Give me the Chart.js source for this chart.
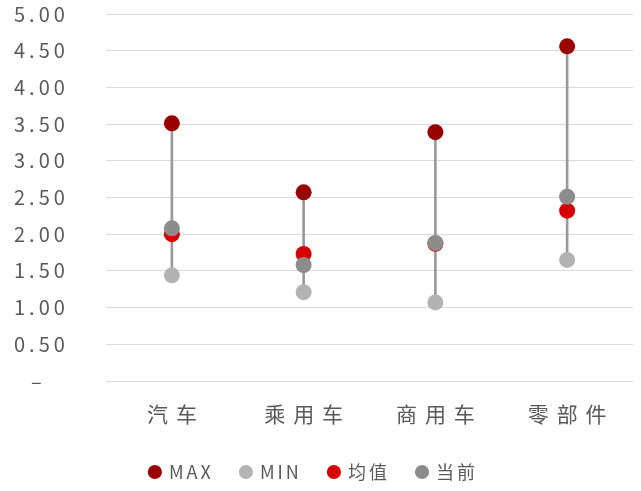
<!DOCTYPE html>
<html>
<head>
<meta charset="utf-8">
<script src="https://cdn.jsdelivr.net/npm/chart.js@4/dist/chart.umd.min.js"></script>
<style>
  html, body { margin: 0; padding: 0; background: #fff; }
  #wrap { width: 641px; height: 491px; }
</style>
</head>
<body>
<div id="wrap"><canvas id="rangeChart"></canvas></div>
<script>
const categories = ['汽车', '乘用车', '商用车', '零部件']
const maxVals = [3.51, 2.57, 3.39, 4.56]
const minVals = [1.44, 1.21, 1.07, 1.65]
const meanVals = [2.00, 1.73, 1.87, 2.32]
const currentVals = [2.08, 1.58, 1.88, 2.51]

const darkRed = '#990000'
const lightGray = '#b3b3b3'
const red = '#d60000'
const midGray = '#8c8c8c'
const textGray = '#595959'

const cjk = '"Noto Sans CJK SC", "Noto Sans", sans-serif'

// letter spacing per axis; canvas state resets on resize so set it every pass
const axisSpacing = { x: '8px', y: '4px' }
const spacingPlugin = {
    id: 'spacing',
    beforeUpdate(chart) { chart.ctx.letterSpacing = '3px' },
    beforeDraw(chart) {
        chart.ctx.letterSpacing = '3px'
        Object.keys(axisSpacing).forEach(id => {
            const scale = chart.scales[id]
            if (!scale || scale._spaced) return
            const orig = scale.drawLabels.bind(scale)
            scale.drawLabels = function(area) {
                const prev = this.ctx.letterSpacing
                this.ctx.letterSpacing = axisSpacing[id]
                orig(area)
                this.ctx.letterSpacing = prev
            }
            scale._spaced = true
        })
    }
}

function pointSet(label, data, color, order) {
    return {
        type: 'line',
        label: label,
        data: data,
        showLine: false,
        pointRadius: 8,
        pointHoverRadius: 8,
        pointBorderWidth: 0,
        backgroundColor: color,
        borderColor: color,
        order: order
    }
}

new Chart('rangeChart', {
    data: {
        labels: categories,
        datasets: [
            pointSet('MAX', maxVals, darkRed, 4),
            pointSet('MIN', minVals, lightGray, 3),
            pointSet('均值', meanVals, red, 2),
            pointSet('当前', currentVals, midGray, 1),
            {
                type: 'bar',
                label: 'range',
                data: minVals.map((v, i) => [v, maxVals[i]]),
                backgroundColor: '#999999',
                barThickness: 2,
                order: 10
            }
        ]
    },
    options: {
        responsive: true,
        maintainAspectRatio: false,
        animation: false,
        layout: { padding: { top: 14, right: 6, bottom: 0, left: 14 } },
        plugins: {
            legend: {
                position: 'bottom',
                labels: {
                    usePointStyle: true,
                    pointStyle: 'circle',
                    boxWidth: 10,
                    boxHeight: 10,
                    padding: 6,
                    color: textGray,
                    font: { size: 18, family: '"Liberation Sans Narrow", ' + cjk },
                    filter: item => item.datasetIndex < 4,
                    sort: (a, b) => a.datasetIndex - b.datasetIndex,
                    generateLabels(chart) {
                        return Chart.defaults.plugins.legend.labels.generateLabels(chart)
                            .map(item => Object.assign(item, { text: item.text + '   ' }))
                    }
                }
            },
            tooltip: { enabled: false }
        },
        scales: {
            x: {
                grid: { display: false, drawTicks: false },
                border: { display: false },
                ticks: {
                    color: textGray,
                    font: { size: 21, family: cjk },
                    padding: 20,
                    labelOffset: 4
                },
                afterFit(scale) { scale.height = 76 }
            },
            y: {
                min: 0,
                max: 5,
                border: { display: false },
                grid: { color: '#d9d9d9', lineWidth: 1, drawTicks: false },
                ticks: {
                    stepSize: 0.5,
                    color: textGray,
                    font: { size: 20, family: cjk },
                    padding: 0,
                    crossAlign: 'far',
                    callback: v => v === 0 ? '  –' : v.toFixed(2)
                },
                afterFit(scale) { scale.width = 92 }
            }
        }
    },
    plugins: [spacingPlugin]
})
</script>
</body>
</html>
